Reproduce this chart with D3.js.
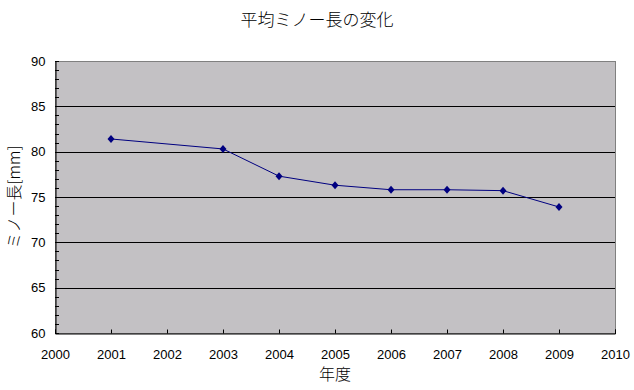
<!doctype html>
<html>
  <head>
  <meta charset="utf-8">
  <style>
    body { margin: 0; background-color: #fff; }
    text { font-family: "Liberation Sans", "Noto Sans CJK JP", sans-serif; fill: #000; }
    .jp { font-family: "Noto Sans CJK JP", sans-serif; font-weight: 300; }
  </style>
  </head>
  <body>
  <script src="https://cdn.jsdelivr.net/npm/d3@7"></script>
  <script>
    var years = [2001, 2003, 2004, 2005, 2006, 2007, 2008, 2009];
    var lengths = [81.4, 80.3, 77.3, 76.3, 75.8, 75.8, 75.7, 73.9];
    var xTicks = d3.range(2000, 2011);
    var yTicks = [60, 65, 70, 75, 80, 85, 90];
    var yMinor = d3.range(60, 91);

    var width = 634,
        height = 390;

    // plot area edges
    var plotL = 55, plotR = 615, plotT = 61, plotB = 333;

    var svg = d3.select('body').append('svg')
        .attr('width', width)
        .attr('height', height);

    var x = d3.scaleLinear().domain([2000, 2010]).range([plotL, plotR]);
    var y = d3.scaleLinear().domain([60, 90]).range([plotB, plotT]);

    svg.append('rect')
        .attr('x', plotL + 0.5).attr('y', plotT + 0.5)
        .attr('width', plotR - plotL).attr('height', plotB - plotT)
        .attr('fill', '#c3c1c4')
        .attr('stroke', '#808080');

    // gridlines
    svg.selectAll('line.grid')
        .data(yTicks.slice(1, -1))
        .enter().append('line')
        .attr('class', 'grid')
        .attr('x1', plotL).attr('x2', plotR)
        .attr('y1', function (d) { return Math.round(y(d)) + 0.5; })
        .attr('y2', function (d) { return Math.round(y(d)) + 0.5; })
        .attr('stroke', '#000').attr('stroke-width', 1);

    // minor ticks on y axis (inside)
    svg.selectAll('line.minor')
        .data(yMinor)
        .enter().append('line')
        .attr('class', 'minor')
        .attr('x1', plotL).attr('x2', plotL + 4)
        .attr('y1', function (d) { return Math.round(y(d)) + 0.5; })
        .attr('y2', function (d) { return Math.round(y(d)) + 0.5; })
        .attr('stroke', '#000');

    var yAxis = d3.axisLeft(y).tickValues(yTicks).tickSize(0).tickPadding(10);
    svg.append('g')
        .attr('transform', 'translate(' + (plotL + 0.5) + ',0)')
        .call(yAxis)
        .call(function (g) { g.select('.domain').attr('stroke', '#000'); })
        .selectAll('text').style('font-size', '13px');

    var xAxis = d3.axisBottom(x).tickValues(xTicks).tickFormat(d3.format('d')).tickSize(-4).tickPadding(16);
    svg.append('g')
        .attr('transform', 'translate(0,' + (plotB + 0.5) + ')')
        .call(xAxis)
        .call(function (g) {
          g.select('.domain').attr('stroke', '#000');
          g.selectAll('.tick line').attr('stroke', '#000');
        })
        .selectAll('text').style('font-size', '13px');

    // line + markers
    var pts = years.map(function (d, i) { return [d, lengths[i]]; });
    svg.append('path')
        .datum(pts)
        .attr('fill', 'none')
        .attr('stroke', '#000080')
        .attr('stroke-width', 1)
        .attr('d', d3.line()
            .x(function (d) { return x(d[0]); })
            .y(function (d) { return y(d[1]); }));

    svg.selectAll('path.marker')
        .data(pts)
        .enter().append('path')
        .attr('class', 'marker')
        .attr('transform', function (d) { return 'translate(' + x(d[0]) + ',' + y(d[1]) + ')'; })
        .attr('d', 'M0,-4L3.5,0L0,4L-3.5,0Z')
        .attr('fill', '#000080');

    // titles
    svg.append('text')
        .attr('class', 'jp')
        .attr('x', 317).attr('y', 26)
        .attr('text-anchor', 'middle')
        .style('font-size', '17px')
        .text('平均ミノー長の変化');

    svg.append('text')
        .attr('class', 'jp')
        .attr('x', 335).attr('y', 380)
        .attr('text-anchor', 'middle')
        .style('font-size', '16px')
        .text('年度');

    svg.append('text')
        .attr('class', 'jp')
        .attr('transform', 'translate(20,197) rotate(-90)')
        .attr('text-anchor', 'middle')
        .style('font-size', '16px')
        .text('ミノー長[mm]');
  </script>
  </body>
</html>
